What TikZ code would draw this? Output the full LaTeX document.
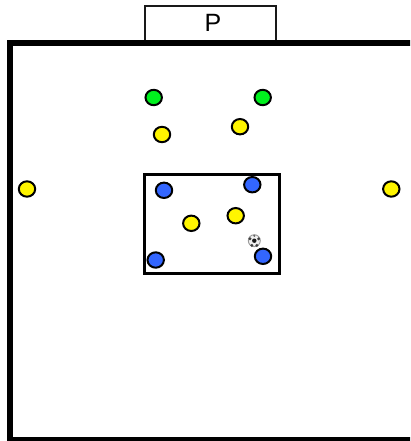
\documentclass[tikz,border=0pt]{standalone}
\usepackage{fontspec}
\usetikzlibrary{shapes.geometric}
\setmainfont{Liberation Sans}
\definecolor{pblue}{RGB}{51,102,255}
\definecolor{pgreen}{RGB}{0,240,30}
\definecolor{pyellow}{RGB}{255,245,0}
\tikzset{
  x=1pt,y=-1pt,
  player/.style={ellipse,draw=black,line width=2pt,minimum width=16.4pt,minimum height=15.4pt,inner sep=0pt},
  yellowp/.style={player,fill=pyellow},
  greenp/.style={player,fill=pgreen},
  bluep/.style={player,fill=pblue},
}
\begin{document}
\begin{tikzpicture}
\useasboundingbox (0,0) rectangle (410,441);
\fill[white] (0,0) rectangle (410,441);
\clip (0,0) rectangle (410,441);
\draw[line width=2pt,draw=black!90] (145.3,42) -- (145.3,6.5) -- (275.5,6.5) -- (275.5,42);
\node[font=\fontsize{25pt}{27pt}\selectfont,inner sep=0pt] (p) at (213,22.8) {P};
\draw[line width=5.6pt] (420,42.8) -- (10,42.8) -- (10,440) -- (420,440);
\draw[line width=2.7pt] (144.7,174.7) rectangle (279.3,273.3);
\node[greenp] (g1) at (153.7,97.5) {};
\node[greenp] (g2) at (262.7,97.5) {};
\node[yellowp] (y1) at (162,134.5) {};
\node[yellowp] (y2) at (240,126.7) {};
\node[yellowp] (y3) at (27,189) {};
\node[yellowp] (y4) at (391.3,189) {};
\node[yellowp] (y5) at (191.3,223.3) {};
\node[yellowp] (y6) at (235.7,215.7) {};
\node[bluep] (b1) at (164,190.3) {};
\node[bluep] (b2) at (252.3,184.7) {};
\node[bluep] (b3) at (155.7,260) {};
\node[bluep] (b4) at (263,256.3) {};
% ball
\node[circle,draw=black!40,line width=.9pt,fill=black!6,minimum size=12pt,inner sep=0pt] (ball) at (254.3,240.7) {};
\fill[black!90] (254.3,240.7) circle (2.2);
\fill[black!75] (250,238.8) circle (1.6);
\fill[black!75] (258.6,238.8) circle (1.6);
\fill[black!75] (251.8,245.4) circle (1.6);
\fill[black!75] (256.8,245.4) circle (1.6);
\fill[black!60] (254.3,235.8) circle (1.2);
\end{tikzpicture}
\end{document}
